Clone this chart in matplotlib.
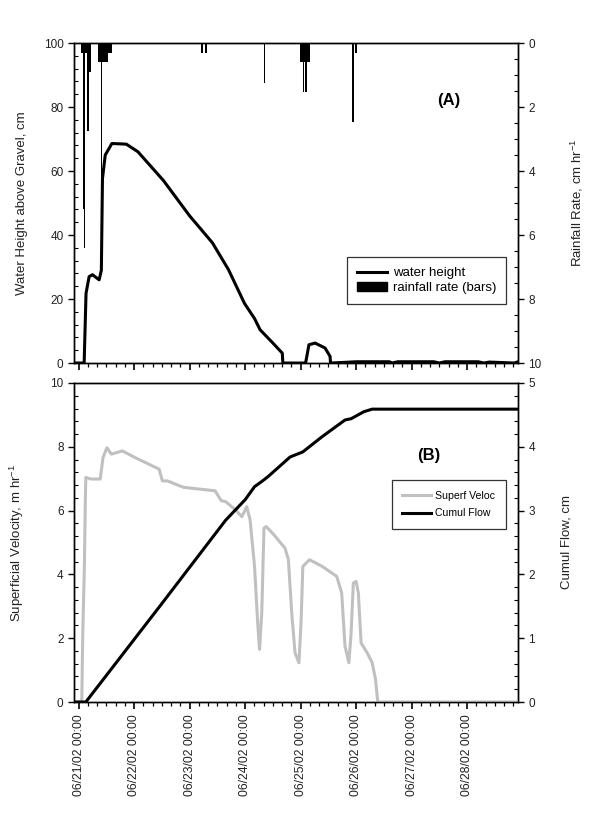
#!/usr/bin/env python3
from __future__ import annotations

from datetime import datetime, timedelta

import matplotlib

matplotlib.use("Agg")
import matplotlib.dates as mdates
import matplotlib.pyplot as plt
from matplotlib.patches import Patch
from matplotlib.lines import Line2D

plt.rcParams["font.family"] = ["Liberation Sans", "DejaVu Sans"]
plt.rcParams["mathtext.default"] = "regular"

START = datetime(2002, 6, 21)

# water height above gravel (cm), time in days after 06/21/02 00:00
height_day = [-0.09, 0.10, 0.134, 0.19, 0.25, 0.37, 0.41, 0.43, 0.48, 0.60, 0.86, 1.07, 1.53,
              2.00, 2.41, 2.70, 2.99, 3.17, 3.27, 3.50, 3.67, 3.68, 4.09, 4.15, 4.26, 4.44,
              4.53, 4.54, 4.90, 5.00, 5.60, 5.65, 5.75, 6.40, 6.50, 6.60, 7.20, 7.30, 7.40,
              7.85, 7.92]
height_cm = [0.0, 0.0, 21.8, 27.0, 27.6, 26.0, 29.0, 57.6, 65.0, 68.6, 68.4, 66.0, 57.0,
             46.0, 37.6, 29.2, 18.6, 13.9, 10.4, 6.25, 3.1, 0.0, 0.0, 5.7, 6.25, 4.7,
             2.1, 0.0, 0.3, 0.4, 0.4, 0.0, 0.4, 0.4, 0.0, 0.4, 0.4, 0.0, 0.3,
             0.0, 0.4]

# rainfall rate (cm/hr), drawn as bars hanging from the top
rain_day = [0.05, 0.07, 0.09, 0.11, 0.13, 0.17, 0.21, 0.37, 0.39, 0.41, 0.43, 0.45, 0.48,
            0.51, 0.55, 0.58, 2.22, 2.30, 3.35, 4.01, 4.03, 4.05, 4.08, 4.10, 4.13, 4.16,
            4.94, 5.00]
rain_rate = [0.3, 0.3, 5.2, 6.4, 0.3, 2.74, 0.92, 0.6, 0.6, 5.5, 0.6, 0.6, 0.6,
             0.6, 0.3, 0.3, 0.3, 0.3, 1.24, 0.6, 0.6, 1.54, 0.6, 1.54, 0.6, 0.6,
             2.46, 0.3]

# superficial velocity (m/hr)
veloc_day = [-0.09, 0.057, 0.075, 0.103, 0.12, 0.13, 0.22, 0.39, 0.44, 0.51, 0.59, 0.79,
             1.02, 1.45, 1.51, 1.60, 1.89, 2.46, 2.57, 2.65, 2.83, 2.94, 3.03, 3.09, 3.17,
             3.23, 3.26, 3.30, 3.34, 3.38, 3.52, 3.72, 3.78, 3.84, 3.90, 3.97, 4.01, 4.04,
             4.16, 4.39, 4.65, 4.74, 4.80, 4.87, 4.91, 4.95, 5.00, 5.04, 5.09, 5.20, 5.29,
             5.35, 5.39, 7.92]
veloc_m = [0.0, 0.0, 2.15, 4.13, 6.2, 7.04, 6.99, 6.99, 7.66, 7.97, 7.77, 7.87,
           7.66, 7.3, 6.93, 6.93, 6.73, 6.62, 6.31, 6.28, 6.02, 5.81, 6.12, 5.71, 4.25,
           2.38, 1.65, 2.79, 5.45, 5.5, 5.24, 4.82, 4.46, 2.79, 1.54, 1.23, 2.58, 4.25,
           4.46, 4.25, 3.94, 3.42, 1.75, 1.23, 2.17, 3.73, 3.78, 3.42, 1.85, 1.54, 1.23,
           0.71, 0.0, 0.0]

# cumulative flow (cm)
cumul_day = [-0.09, 0.13, 1.48, 2.65, 3.00, 3.17, 3.29, 3.41, 3.81, 4.04, 4.39, 4.80,
             4.91, 5.14, 5.29, 7.92]
cumul_cm = [0.0, 0.0, 1.52, 2.85, 3.17, 3.375, 3.45, 3.53, 3.84, 3.92, 4.16, 4.42,
            4.44, 4.55, 4.59, 4.59]

TXT = "#222222"


def to_dates(days):
    return [START + timedelta(days=d) for d in days]


def style_x(ax, labels: bool) -> None:
    ax.set_xlim(START - timedelta(hours=2), START + timedelta(days=7, hours=22))
    ax.xaxis.set_major_locator(mdates.DayLocator())
    ax.xaxis.set_minor_locator(mdates.HourLocator(byhour=[4, 8, 12, 16, 20]))
    ax.xaxis.set_major_formatter(mdates.DateFormatter("%m/%d/%y %H:%M"))
    ax.tick_params(axis="x", which="major", direction="out", length=5, width=1.2,
                   labelsize=8.7, labelbottom=labels, labelrotation=90, labelcolor=TXT)
    ax.tick_params(axis="x", which="minor", direction="out", length=3, width=0.9)


def style_y(ax) -> None:
    ax.tick_params(axis="y", which="major", direction="out", length=4, width=1,
                   labelsize=8.5, labelcolor=TXT)
    ax.tick_params(axis="y", which="minor", direction="in", length=3, width=0.8)


fig = plt.figure(figsize=(5.98, 8.18), dpi=100)
ax1 = fig.add_axes([0.1237, 0.5562, 0.7425, 0.3912])
ax2 = fig.add_axes([0.1237, 0.1418, 0.7425, 0.3900])

# ---- panel A ----
ax1.plot(to_dates(height_day), height_cm, color="black", linewidth=2.2, zorder=3)
ax1.set_ylim(0, 100)
ax1.set_yticks(range(0, 101, 20))
ax1.set_yticks(range(0, 101, 4), minor=True)
ax1.set_ylabel("Water Height above Gravel, cm", fontsize=9.5, color=TXT)
ax1.yaxis.set_label_coords(-0.103, 0.5)
style_x(ax1, labels=False)
style_y(ax1)

ax1r = ax1.twinx()
ax1r.bar(to_dates(rain_day), rain_rate, width=0.028, color="black", align="center")
ax1r.set_ylim(10, 0)
ax1r.set_yticks(range(0, 11, 2))
ax1r.set_yticks([i * 0.5 for i in range(21)], minor=True)
ax1r.set_ylabel("Rainfall Rate, cm hr$^{-1}$", fontsize=9.5, color=TXT)
ax1r.yaxis.set_label_coords(1.115, 0.5)
style_y(ax1r)
style_x(ax1r, labels=False)

ax1.text(0.845, 0.82, "(A)", transform=ax1.transAxes, fontsize=12, fontweight="bold",
         ha="center", va="center")
handles_a = [Line2D([], [], color="black", linewidth=2.2),
             Patch(facecolor="black", edgecolor="black")]
leg_a = ax1r.legend(handles_a, ["water height", "rainfall rate (bars)"], loc="upper left",
                    bbox_to_anchor=(0.615, 0.331), borderaxespad=0, fontsize=9.5,
                    frameon=True, fancybox=False, edgecolor="black", handlelength=2.3,
                    handletextpad=0.4, borderpad=0.75, labelspacing=0.2)
leg_a.get_frame().set_linewidth(0.9)

# ---- panel B ----
ax2.plot(to_dates(veloc_day), veloc_m, color="#c0c0c0", linewidth=2.2, zorder=3)
ax2.set_ylim(0, 10)
ax2.set_yticks(range(0, 11, 2))
ax2.set_yticks([i * 0.4 for i in range(26)], minor=True)
ax2.set_ylabel("Superficial Velocity, m hr$^{-1}$", fontsize=9.5, color=TXT)
ax2.yaxis.set_label_coords(-0.107, 0.5)
style_x(ax2, labels=True)
style_y(ax2)

ax2r = ax2.twinx()
ax2r.plot(to_dates(cumul_day), cumul_cm, color="black", linewidth=2.2)
ax2r.set_ylim(0, 5)
ax2r.set_yticks(range(0, 6))
ax2r.set_yticks([i * 0.2 for i in range(26)], minor=True)
ax2r.set_ylabel("Cumul Flow, cm", fontsize=9.5, color=TXT)
ax2r.yaxis.set_label_coords(1.096, 0.5)
style_y(ax2r)
style_x(ax2r, labels=False)

ax2.text(0.80, 0.774, "(B)", transform=ax2.transAxes, fontsize=12, fontweight="bold",
         ha="center", va="center")
handles_b = [Line2D([], [], color="#c0c0c0", linewidth=2.2),
             Line2D([], [], color="black", linewidth=2.2)]
leg_b = ax2r.legend(handles_b, ["Superf Veloc", "Cumul Flow"], loc="upper left",
                    bbox_to_anchor=(0.716, 0.696), borderaxespad=0, fontsize=7.6,
                    frameon=True, fancybox=False, edgecolor="black", handlelength=2.7,
                    handletextpad=0.4, borderpad=1.0, labelspacing=0.75)
leg_b.get_frame().set_linewidth(0.9)

for ax in (ax1, ax1r, ax2, ax2r):
    for sp in ax.spines.values():
        sp.set_linewidth(1.0)

fig.savefig("out.png", dpi=100)
